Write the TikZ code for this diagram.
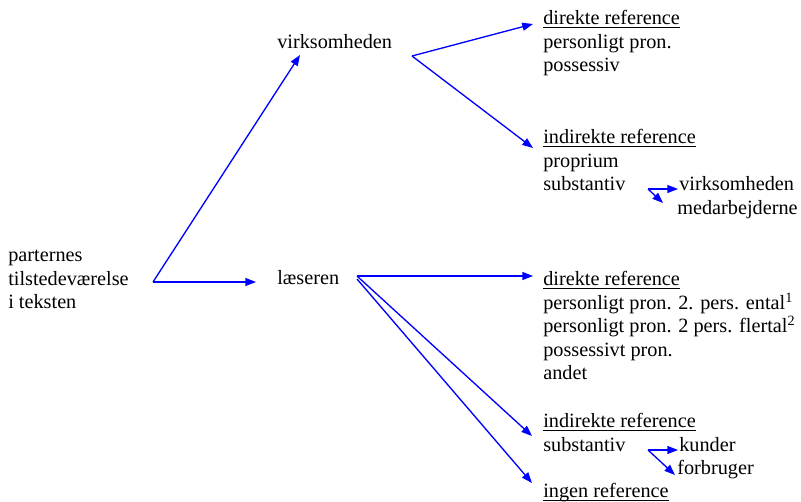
\documentclass[tikz,border=0pt]{standalone}
\usepackage{fontspec}
\setmainfont{Liberation Serif}
\usetikzlibrary{arrows.meta}

\newcommand{\refhead}[1]{\underline{\smash{#1}}}
\newcommand{\lines}[1]{\vtop{\halign{##\hfil\cr#1\crcr}}}

\tikzset{
  txt/.style={anchor=base west,inner sep=0pt,
    font=\fontsize{15.2pt}{17.6pt}\selectfont},
  arr/.style={draw=blue,line width=1pt,-{Triangle[length=8pt,width=6pt]}}
}

\begin{document}
\begin{tikzpicture}[x=.75pt,y=-.75pt]
        \useasboundingbox (0,0) rectangle (801,502);

        %% left side
        \node (parter) at (8,262) [txt] {\lines{parternes\cr tilstedeværelse\cr i teksten}};
        \node (virk) at (277,49) [txt] {virksomheden};
        \node (laes) at (277,285) [txt] {læseren};

        %% virksomheden
        \node (dirA) at (543,25) [txt] {\lines{\refhead{direkte reference}\cr personligt pron.\cr possessiv}};
        \node (indA) at (543,144) [txt] {\lines{\refhead{indirekte reference}\cr proprium\cr substantiv}};
        \node (virkB) at (679,191) [txt] {virksomheden};
        \node (medarb) at (677,214.5) [txt] {medarbejderne};

        %% læseren
        \node (dirB) at (543,286) [txt] {\lines{\refhead{direkte reference}\cr
          personligt pron. 2. pers. ental\textsuperscript{1}\cr
          personligt pron. 2 pers. flertal\textsuperscript{2}\cr
          possessivt pron.\cr andet}};
        \node (indB) at (543,428) [txt] {\lines{\refhead{indirekte reference}\cr substantiv}};
        \node (kunder) at (679,451.5) [txt] {kunder};
        \node (forbr) at (677,475) [txt] {forbruger};
        \node (ingen) at (543,498) [txt] {\refhead{ingen reference}};

        %% forks
        \coordinate (f0) at (153,282);
        \coordinate (fV) at (412,56);
        \coordinate (fL) at (357,276);
        \coordinate (fLb) at (357,279);
        \coordinate (fS) at (648,189);
        \coordinate (fT) at (648,450);

        %% arrows
        \draw[arr] (f0) -- ([shift={(23,6)}]virk.base west);
        \draw[arr] (f0) -- ([shift={(-21,-3)}]laes.base west);
        \draw[arr] (fV) -- ([shift={(-10,-1)}]dirA.base west);
        \draw[arr] (fV) -- ([shift={(-10,4)}]indA.base west);
        \draw[arr] (fL) -- ([shift={(-10,-10)}]dirB.base west);
        \draw[arr] (fL) -- ([shift={(-11,8)}]indB.base west);
        \draw[arr] (fLb) -- ([shift={(-11,-15)}]ingen.base west);
        \draw[arr] (fS) -- ([shift={(-1,-2)}]virkB.base west);
        \draw[arr] (fS) -- ([shift={(-14,-11.5)}]medarb.base west);
        \draw[arr] (fT) -- ([shift={(-1,-1.5)}]kunder.base west);
        \draw[arr] (fT) -- ([shift={(-2,0)}]forbr.base west);
\end{tikzpicture}
\end{document}
